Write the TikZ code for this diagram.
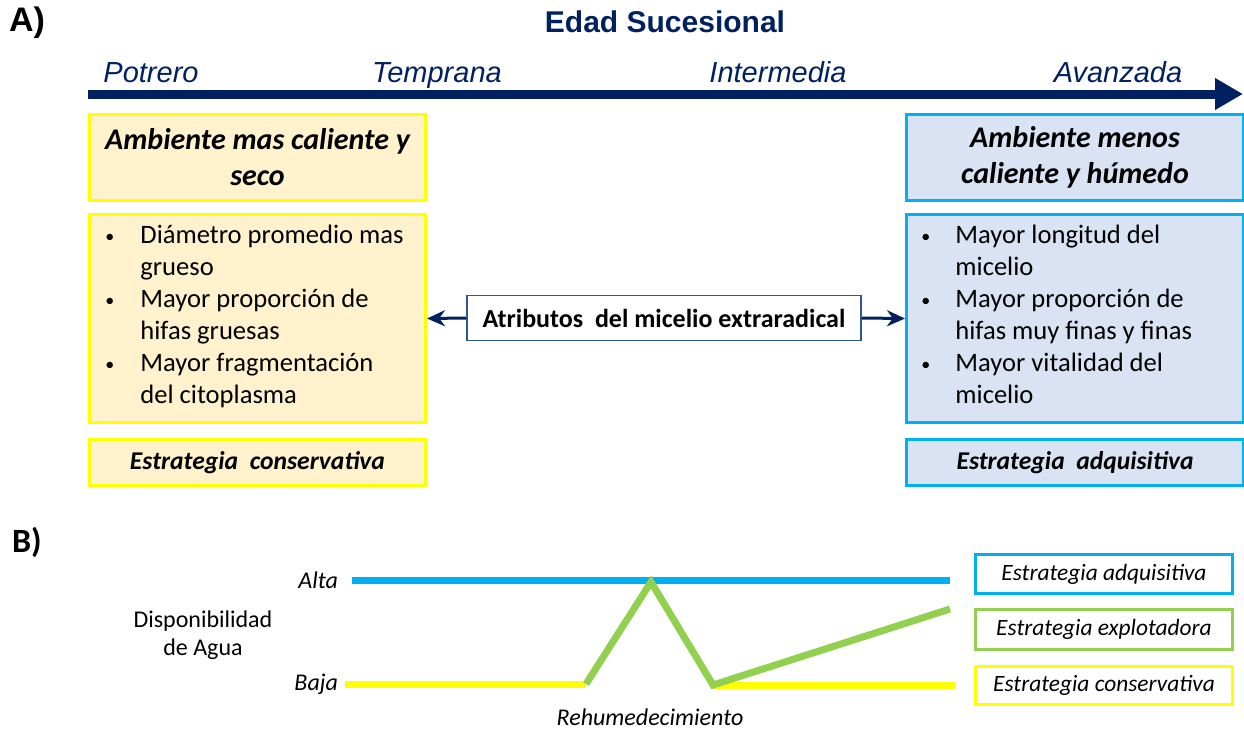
\documentclass[tikz,border=0pt]{standalone}
\usepackage{fontspec}
\setmainfont{Carlito}
\newfontfamily\arialf{Liberation Sans}
\usetikzlibrary{arrows.meta}
\definecolor{navy}{HTML}{002060}
\definecolor{ylw}{HTML}{FFFF00}
\definecolor{cyanb}{HTML}{00B0F0}
\definecolor{grn}{HTML}{92D050}
\definecolor{creamf}{HTML}{FFF2CC}
\definecolor{bluef}{HTML}{DAE3F3}
\definecolor{midb}{HTML}{2F5597}
\newcommand{\blt}{\raisebox{0.1ex}{\small •}}
\tikzset{
  ybox/.style={draw=ylw, fill=creamf, line width=1.5pt, inner sep=0pt},
  bbox/.style={draw=cyanb, fill=bluef, line width=1.5pt, inner sep=0pt},
  headtxt/.style={font=\fontsize{15}{18}\selectfont\bfseries\itshape, align=center},
  listtxt/.style={font=\fontsize{13.3}{16}\selectfont, anchor=west, inner sep=0pt},
  strtxt/.style={font=\fontsize{12.8}{15}\selectfont\bfseries\itshape},
  stage/.style={font=\arialf\fontsize{14.5}{17}\selectfont\itshape, text=navy, anchor=base, inner sep=0pt},
  linkarrow/.style={navy, line width=1.5pt, -{Stealth[length=9pt,width=8pt]}},
  wline/.style={line width=3.5pt},
  legbox/.style={draw, fill=white, line width=1.5pt, font=\fontsize{11.7}{14}\selectfont\itshape},
}
\begin{document}
\begin{tikzpicture}[x=0.5pt,y=-0.5pt]
\useasboundingbox (0,0) rectangle (1244,730);
% Part A
\node[font=\arialf\fontsize{17}{20}\selectfont\bfseries, anchor=center] (lblA) at (27,23) {A)};
\node[font=\arialf\fontsize{15}{18}\selectfont\bfseries, text=navy] (title) at (665,22) {Edad Sucesional};
\node[stage] (s1) at (151,82) {Potrero};
\node[stage] (s2) at (437,82) {Temprana};
\node[stage] (s3) at (778,82) {Intermedia};
\node[stage] (s4) at (1118,82) {Avanzada};
\coordinate (axs) at (88,94);
\coordinate (axe) at (1243,94);
\draw[navy, line width=4.5pt, -{Triangle[length=14pt,width=15pt]}] (axs) -- (axe);

\node[ybox, minimum width=168pt, minimum height=43pt, anchor=north west] (lh) at (88,113) {};
\node[headtxt] at (lh.center) {Ambiente mas caliente y\\seco};
\node[ybox, minimum width=168pt, minimum height=104pt, anchor=north west] (ll) at (88,213) {};
\node[listtxt] at (105,317) {\begin{tabular}{@{}p{17.5pt}@{}l@{}}
\blt & Diámetro promedio mas\\ & grueso\\
\blt & Mayor proporción de\\ & hifas gruesas\\
\blt & Mayor fragmentación\\ & del citoplasma
\end{tabular}};
\node[ybox, minimum width=168pt, minimum height=23pt, anchor=north west] (ls) at (88,438) {};
\node[strtxt] at (ls.center) {Estrategia \ conservativa};

\node[bbox, minimum width=168.5pt, minimum height=43pt, anchor=north west] (rh) at (905,113) {};
\node[headtxt] at (rh.center) {Ambiente menos\\caliente y húmedo};
\node[bbox, minimum width=168.5pt, minimum height=104pt, anchor=north west] (rl) at (905,213) {};
\node[listtxt] at (921,317) {\begin{tabular}{@{}p{17pt}@{}l@{}}
\blt & Mayor longitud del\\ & micelio\\
\blt & Mayor proporción de\\ & hifas muy finas y finas\\
\blt & Mayor vitalidad del\\ & micelio
\end{tabular}};
\node[bbox, minimum width=168.5pt, minimum height=23pt, anchor=north west] (rs) at (905,438) {};
\node[strtxt] at (rs.center) {Estrategia \ adquisitiva};

\node[draw=midb, fill=white, line width=0.8pt, minimum width=197pt, minimum height=22.5pt, font=\fontsize{13}{15}\selectfont\bfseries] (mid) at (664,318) {Atributos \ del micelio extraradical};
\draw[linkarrow] (mid.west) -- (ll.east);
\draw[linkarrow] (mid.east) -- (rl.west);

% Part B
\node[font=\fontsize{17}{20}\selectfont\bfseries] (lblB) at (27,542) {B)};
\node[font=\fontsize{12}{14}\selectfont\itshape, anchor=east] (alta) at (345,580) {Alta};
\node[font=\fontsize{12}{14}\selectfont\itshape, anchor=east] (baja) at (345,684) {Baja};
\node[font=\fontsize{12}{14}\selectfont, align=center] (disp) at (203,635) {Disponibilidad\\de Agua};
\node[font=\fontsize{12}{14}\selectfont\itshape] (rehum) at (650,717) {Rehumedecimiento};

\coordinate (b1) at (352,580);
\coordinate (b2) at (950,580);
\coordinate (y1) at (345,684);
\coordinate (y2) at (586,684);
\coordinate (y3) at (713,685);
\coordinate (y4) at (955,685);
\coordinate (gpk) at (651,582);
\coordinate (gend) at (950,609);
\draw[wline, cyanb] (b1) -- (b2);
\draw[wline, ylw] (y1) -- (y2);
\draw[wline, ylw] (y3) -- (y4);
\draw[wline, grn, line join=miter] (y2) -- (gpk) -- (y3) -- (gend);

\node[legbox, draw=cyanb, minimum width=128.5pt, minimum height=19.5pt, anchor=north west] (la) at (974,553) {Estrategia adquisitiva};
\node[legbox, draw=grn, minimum width=128.5pt, minimum height=20pt, anchor=north west] (le) at (974,608) {Estrategia explotadora};
\node[legbox, draw=ylw, minimum width=128.5pt, minimum height=19pt, anchor=north west] (lc) at (974,665) {Estrategia conservativa};
\end{tikzpicture}
\end{document}
